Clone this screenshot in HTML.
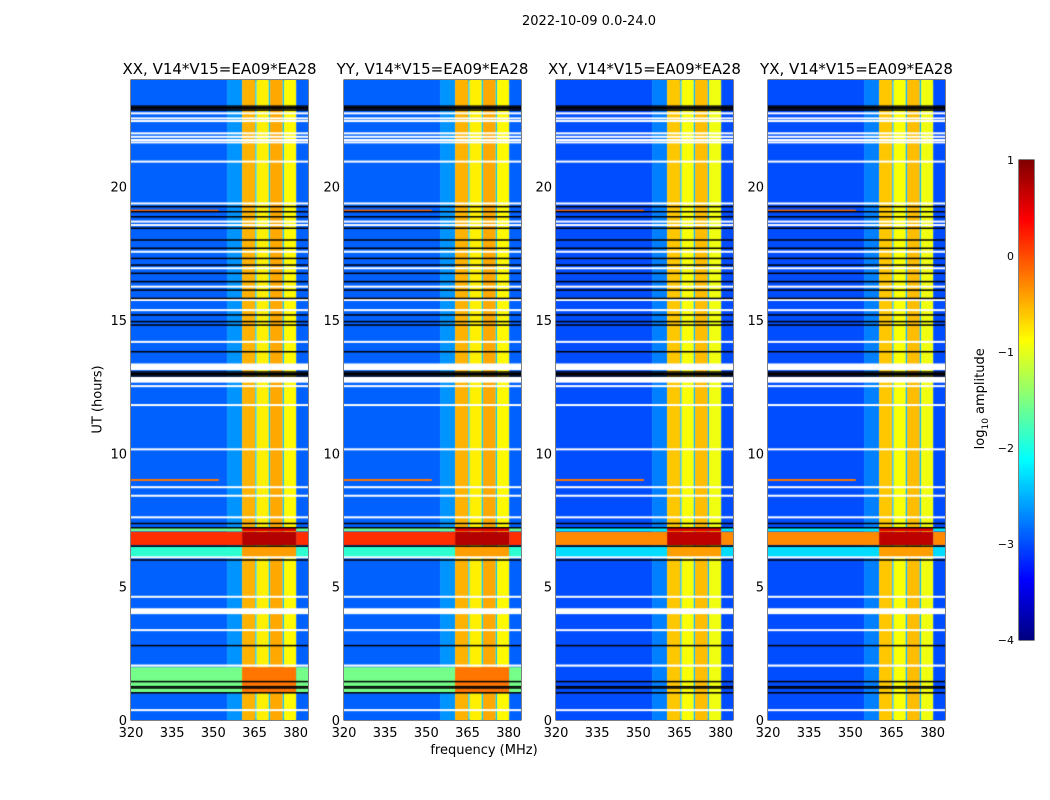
<!DOCTYPE html>
<html><head><meta charset="utf-8"><style>
body{margin:0;background:#fff;font-family:"DejaVu Sans","Liberation Sans",sans-serif;}
#root{position:relative;width:1050px;height:800px;overflow:hidden;background:#fff;}
.t{position:absolute;color:#000;white-space:nowrap;}
canvas{position:absolute;}
</style></head><body>
<div id="root">
<div class="t" style="left:489px;top:14px;width:200px;text-align:center;font-size:13px;">2022-10-09 0.0-24.0</div>
<div class="t" style="left:48px;top:392px;width:100px;text-align:center;font-size:13px;transform:rotate(-90deg);">UT (hours)</div>
<div class="t" style="left:384px;top:743px;width:200px;text-align:center;font-size:13px;">frequency (MHz)</div>
<div class="t" style="left:922px;top:390px;width:120px;text-align:center;font-size:13px;transform:rotate(-90deg);">log<sub style="font-size:9px">10</sub> amplitude</div>
<svg id="overlay" width="1050" height="800" style="position:absolute;left:0;top:0"></svg>
</div>
<script>
// ---- data ----
const panelNames = ["XX, V14*V15=EA09*EA28","YY, V14*V15=EA09*EA28","XY, V14*V15=EA09*EA28","YX, V14*V15=EA09*EA28"];
const freqEdges = [320, 355, 360.5, 365.3, 365.8, 370.2, 370.7, 375.3, 375.8, 380.2, 384.5];
const freqLevel = [-2.9, -2.65, -0.5, -2.4, -0.8, -2.4, -0.45, -2.4, -0.85, -2.9];
const xTicks = [320, 335, 350, 365, 380];
const yTicks = [0, 5, 10, 15, 20];
const cbTicks = [1, 0, -1, -2, -3, -4];
const flagTimes = [22.75,22.56,22.46,22.0,21.87,21.75,21.66,20.94,19.37,18.69,18.56,17.56,16.94,16.25,15.75,15.37,14.18,12.52,11.81,10.15,8.73,8.41,7.6,6.1,4.62,3.37,0.37];
const flagBands = [[13.12,13.37],[12.65,12.87],[3.97,4.19],[2.0,2.08]];
const blackTimes = [19.25,19.06,18.87,18.44,18.0,17.69,17.31,17.06,16.75,16.44,16.12,15.81,15.19,14.94,14.81,13.81,7.37,7.21,6.52,6.0,2.79,1.44,1.25,1.2,1.02];
const blackBands = [[22.87,23.07],[12.9,13.06]];
// background overrides [t0, t1, leftLevel, bandLevel]
const redBand = [[6.56,7.06,0.15,0.75],[7.08,7.2,-1.6,0.5],[6.12,6.5,-1.9,-0.4]];
const redBandCross = [[6.56,7.06,-0.3,0.7],[7.08,7.2,-2.2,0.5],[6.12,6.5,-2.3,-0.4]];
const cyanBand = [[1.05,1.98,-1.55,-0.2]];
const redLines = [[9.0,-0.2],[19.1,-0.1]];
const cbMin = -4, cbMax = 1;

function jet(v){
  let t=(v-cbMin)/(cbMax-cbMin); t=Math.max(0,Math.min(1,t));
  const c=x=>Math.round(255*Math.max(0,Math.min(1,x)));
  return `rgb(${c(1.5-Math.abs(4*t-3))},${c(1.5-Math.abs(4*t-2))},${c(1.5-Math.abs(4*t-1))})`;
}
const root=document.getElementById('root');
const svg=document.getElementById('overlay');
const NS='http://www.w3.org/2000/svg';
const panelLefts=[131,344,556,768], PW=177, PT=80, PB=720;
const fx=(L,f)=>L+(f-320)/(384.5-320)*PW;
const ty=t=>PB-t/24*(PB-PT);

panelLefts.forEach((L,pi)=>{
  const cv=document.createElement('canvas');
  
  
  cv.width=PW; cv.height=PB-PT; cv.style.left=L+'px'; cv.style.top=PT+'px';
  root.appendChild(cv);
  const g=cv.getContext('2d');
  const X=f=>(f-320)/(384.5-320)*PW, Y=t=>(24-t)/24*(PB-PT);
  const lvlShift = pi>=2 ? -0.1 : 0;
  for(let i=0;i<freqLevel.length;i++){
    g.fillStyle=jet(freqLevel[i]+lvlShift);
    g.fillRect(X(freqEdges[i]),0,X(freqEdges[i+1])-X(freqEdges[i]),PB-PT);
  }
  const bandStart=freqEdges[2], bandEnd=freqEdges[freqEdges.length-2];
  const over=(pi<2?redBand:redBandCross).concat(pi<2?cyanBand:[]);
  over.forEach(o=>{
    g.fillStyle=jet(o[2]); g.fillRect(0,Y(o[1]),X(bandStart),Y(o[0])-Y(o[1]));
    g.fillStyle=jet(o[3]); g.fillRect(X(bandStart),Y(o[1]),X(bandEnd)-X(bandStart),Y(o[0])-Y(o[1]));
    g.fillStyle=jet(o[2]); g.fillRect(X(bandEnd),Y(o[1]),PW-X(bandEnd),Y(o[0])-Y(o[1]));
  });
  redLines.forEach(r=>{g.fillStyle=jet(r[1]);g.fillRect(0,Y(r[0])-1,X(352)-0,2);});
  g.fillStyle='#fff';
  flagTimes.forEach(t=>g.fillRect(0,Y(t)-1,PW,2));
  flagBands.forEach(b=>g.fillRect(0,Y(b[1]),PW,Y(b[0])-Y(b[1])));
  g.fillStyle='#000';
  blackTimes.forEach(t=>g.fillRect(0,Y(t)-0.75,PW,1.5));
  blackBands.forEach(b=>{for(let t=b[0];t<b[1];t+=0.05)g.fillRect(0,Y(t)-0.7,PW,1.4);});

  const fr=document.createElementNS(NS,'rect');
  
  
  fr.setAttribute('x',L);fr.setAttribute('y',PT);fr.setAttribute('width',PW);fr.setAttribute('height',PB-PT);
  fr.setAttribute('fill','none');fr.setAttribute('stroke','#000');fr.setAttribute('stroke-width','1');
  svg.appendChild(fr);
  const title=document.createElementNS(NS,'text');
  
  
  title.setAttribute('x',L+PW/2);title.setAttribute('y',74);title.setAttribute('text-anchor','middle');
  title.setAttribute('font-size','15');title.textContent=panelNames[pi];
  svg.appendChild(title);
  xTicks.forEach(f=>{
    const x=fx(L,f);
    const ln=document.createElementNS(NS,'path');
    
    
    ln.setAttribute('d',`M${x},${PB}v-4M${x},${PT}v4`);ln.setAttribute('stroke','#000');
    svg.appendChild(ln);
    const tx=document.createElementNS(NS,'text');
    
    
    tx.setAttribute('x',x);tx.setAttribute('y',737);tx.setAttribute('text-anchor','middle');tx.setAttribute('font-size','13');
    tx.textContent=f; svg.appendChild(tx);
  });
  yTicks.forEach(t=>{
    const y=ty(t);
    const ln=document.createElementNS(NS,'path');
    
    
    ln.setAttribute('d',`M${L},${y}h4M${L+PW},${y}h-4`);ln.setAttribute('stroke','#000');
    svg.appendChild(ln);
    const tx=document.createElementNS(NS,'text');
    
    
    tx.setAttribute('x',L-4);tx.setAttribute('y',y+5);tx.setAttribute('text-anchor','end');tx.setAttribute('font-size','13');
    tx.textContent=t; svg.appendChild(tx);
  });
});

const CBL=1019,CBW=15,CBT=160,CBB=640;
const cb=document.createElement('canvas');


cb.width=CBW;cb.height=CBB-CBT;cb.style.left=CBL+'px';cb.style.top=CBT+'px';
root.appendChild(cb);
const cg=cb.getContext('2d');
for(let y=0;y<CBB-CBT;y++){cg.fillStyle=jet(cbMax-(y+0.5)/(CBB-CBT)*(cbMax-cbMin));cg.fillRect(0,y,CBW,1);}
const cbf=document.createElementNS(NS,'rect');


cbf.setAttribute('x',CBL);cbf.setAttribute('y',CBT);cbf.setAttribute('width',CBW);cbf.setAttribute('height',CBB-CBT);
cbf.setAttribute('fill','none');cbf.setAttribute('stroke','#000');
svg.appendChild(cbf);
cbTicks.forEach(v=>{
  const y=CBT+(cbMax-v)/(cbMax-cbMin)*(CBB-CBT);
  const ln=document.createElementNS(NS,'path');
  
  
  ln.setAttribute('d',`M${CBL},${y}h4M${CBL+CBW},${y}h-4`);ln.setAttribute('stroke','#000');
  svg.appendChild(ln);
  const tx=document.createElementNS(NS,'text');
  
  
  tx.setAttribute('x',CBL-5);tx.setAttribute('y',y+4);tx.setAttribute('text-anchor','end');tx.setAttribute('font-size','11');
  tx.textContent=v<0?'\u2212'+Math.abs(v):v; svg.appendChild(tx);
});
</script>
</body></html>
